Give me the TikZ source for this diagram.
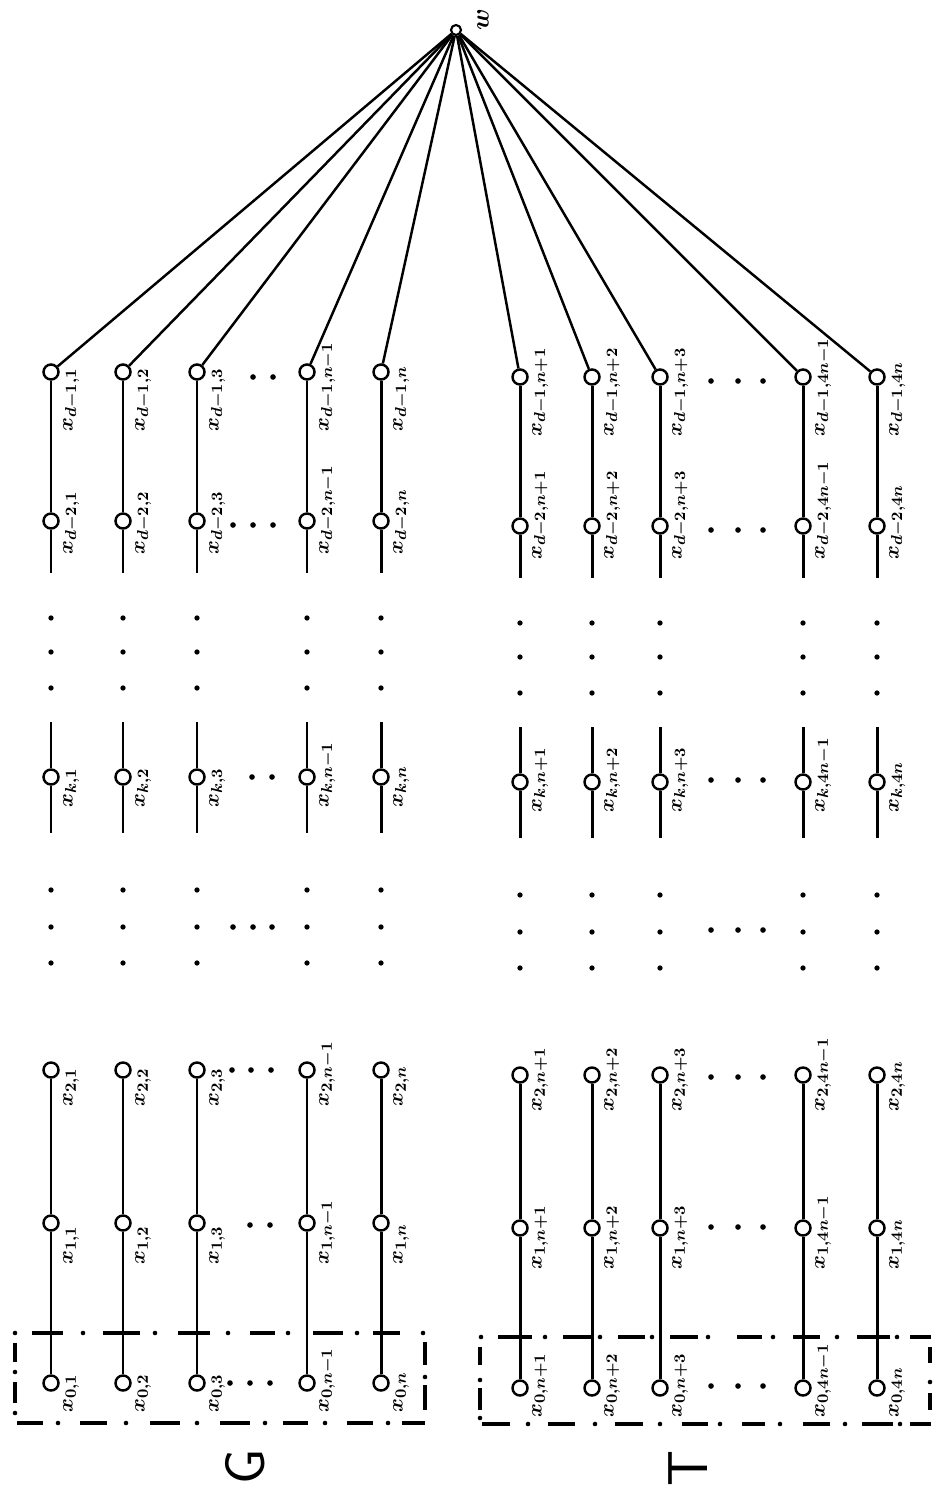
\documentclass[tikz,border=0pt]{standalone}
\begin{document}
\begin{tikzpicture}[x=0.02cm,y=-0.02cm,
  vert/.style={circle,draw,fill=white,line width=1.4pt,minimum size=0.3cm,inner sep=0pt},
  wl/.style={line width=1.7pt},
  edge/.style={line width=1.4pt},
  lab/.style={rotate=90,anchor=north west,inner sep=0pt,font=\boldmath\fontsize{13}{15}\selectfont},
  boxl/.style={line width=1.9pt},
  big/.style={rotate=90,font=\sffamily\fontsize{32}{36}\selectfont},
]
\useasboundingbox (0,0) rectangle (933,1486);
\node[vert,minimum size=0.2cm,line width=1.2pt] (w) at (456,30) {};
\node[rotate=90,font=\boldmath\fontsize{15}{17}\selectfont] (wlab) at (483,20) {$w$};

\foreach \c/\xx/\dy/\s in {1/51/0/1, 2/123/0/2, 3/197/0/3, 4/307/0/n-1, 5/381/0/n,
  6/520/5/n+1, 7/592/5/n+2, 8/660/5/n+3, 9/803/5/4n-1, 10/877/5/4n}{
  \node[vert] (a\c) at (\xx,372+\dy) {};
  \node[vert] (b\c) at (\xx,521+\dy) {};
  \coordinate (be\c) at (\xx,573+\dy);
  \coordinate (ks\c) at (\xx,722+\dy);
  \node[vert] (k\c) at (\xx,777+\dy) {};
  \coordinate (ke\c) at (\xx,833+\dy);
  \node[vert] (t\c) at (\xx,1070+\dy) {};
  \node[vert] (o\c) at (\xx,1223+\dy) {};
  \node[vert] (z\c) at (\xx,1383+\dy) {};
  \draw[wl] (a\c) -- (b\c) -- (be\c);
  \draw[wl] (ks\c) -- (k\c) -- (ke\c);
  \draw[wl] (t\c) -- (o\c) -- (z\c);
  \draw[edge] (w) -- (a\c);
  \foreach \yy in {618,652,688,890,927,963}
    \fill (\xx,\yy+\dy) circle (1.5pt);
  \node[lab] (la\c) at (\xx+12,432+\dy) {$x_{d-1,\s}$};
  \node[lab] (lb\c) at (\xx+12,555+\dy) {$x_{d-2,\s}$};
  \node[lab] (lk\c) at (\xx+12,808+\dy) {$x_{k,\s}$};
  \node[lab] (lt\c) at (\xx+12,1107+\dy) {$x_{2,\s}$};
  \node[lab] (lo\c) at (\xx+12,1265+\dy) {$x_{1,\s}$};
  \node[lab] (lz\c) at (\xx+12,1413+\dy) {$x_{0,\s}$};
}

% horizontal ellipsis dots, G
\foreach \p in {(253,377),(273,377),(233,525),(253,525),(273,525),(252,777),(272,777),
  (233,927),(253,927),(272,927),(232,1070),(251,1070),(271,1070),(250,1225),(270,1225),
  (230,1383),(250,1383),(270,1383)}
  \fill \p circle (1.6pt);
% horizontal ellipsis dots, T
\foreach \yy in {381,530,780,930,1077,1227,1386}
  \foreach \xx in {711,738,763}
    \fill (\xx,\yy) circle (1.6pt);

% G box (dash-dot)
\foreach \a/\b in {32/63,103/140,178/210,250/275,313/343,373/400}
  \draw[boxl] (\a,1333) -- (\b,1333);
\foreach \a in {15,83,155,228,288,357,423} \fill (\a,1333) circle (1.3pt);
\foreach \a/\b in {1343/1362,1382/1403} \draw[boxl] (15,\a) -- (15,\b);
\foreach \a in {1372,1413} \fill (15,\a) circle (1.3pt);
\foreach \a/\b in {17/43,80/107,150/180,220/250,283/308,347/373,402/425}
  \draw[boxl] (\a,1423) -- (\b,1423);
\foreach \a in {58,126,197,265,325,388} \fill (\a,1423) circle (1.3pt);
\foreach \a/\b in {1342/1365,1385/1410} \draw[boxl] (425,\a) -- (425,\b);
\foreach \a in {1377} \fill (425,\a) circle (1.3pt);

% T box (dash-dot)
\foreach \a/\b in {498/532,563/592,618/645,670/698,737/762,793/820,857/890,910/931}
  \draw[boxl] (\a,1337) -- (\b,1337);
\foreach \a in {481,545,600,652,708,773,837,897} \fill (\a,1337) circle (1.3pt);
\foreach \a/\b in {1347/1365,1388/1410} \draw[boxl] (480,\a) -- (480,\b);
\foreach \a in {1380,1418} \fill (480,\a) circle (1.3pt);
\foreach \a/\b in {482/510,548/575,615/643,682/708,742/765,803/830,862/893,910/931}
  \draw[boxl] (\a,1424) -- (\b,1424);
\foreach \a in {528,595,660,720,780,845,900} \fill (\a,1424) circle (1.3pt);
\foreach \a/\b in {1347/1363,1393/1410} \draw[boxl] (930,\a) -- (930,\b);
\foreach \a in {1382} \fill (930,\a) circle (1.3pt);

\node[big] (G) at (245,1467) {G};
\node[big] (T) at (688,1468) {T};
\end{tikzpicture}
\end{document}
